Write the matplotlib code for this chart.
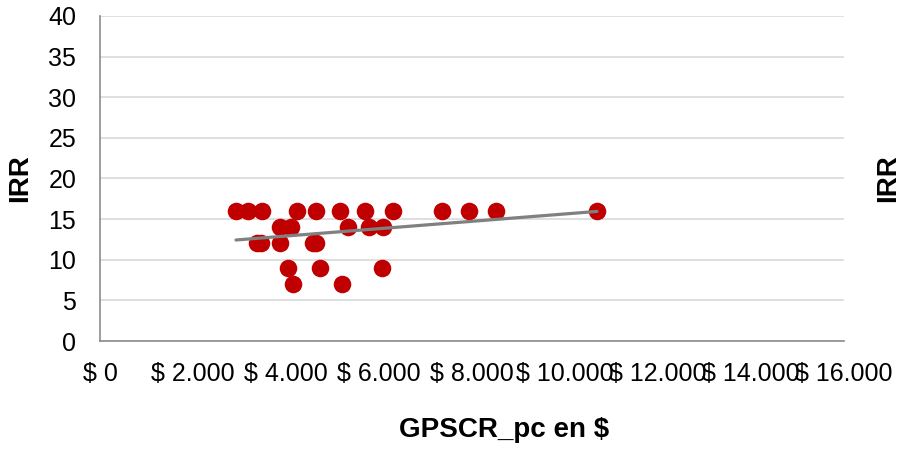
import matplotlib.pyplot as plt
import numpy as np

plt.rcParams['font.family'] = ['Liberation Sans', 'DejaVu Sans']

# GPSCR per capita (in $) against IRR, one point per observation
gpscr_pc = [2925, 3189, 3490, 4230, 4645, 5161, 5699, 6295, 7355, 7935, 8516, 10688,
            3871, 4101, 5327, 5791, 6092,
            3376, 3456, 3871, 4574, 4652,
            4037, 4731, 6058,
            4157, 5198]
irr = [16, 16, 16, 16, 16, 16, 16, 16, 16, 16, 16, 16,
       14, 14, 14, 14, 14,
       12, 12, 12, 12, 12,
       9, 9, 9,
       7, 7]

x_ticks = [0, 2000, 4000, 6000, 8000, 10000, 12000, 14000, 16000]
x_labels = ['$ 0', '$ 2.000', '$ 4.000', '$ 6.000', '$ 8.000',
            '$ 10.000', '$ 12.000', '$ 14.000', '$ 16.000']
y_ticks = [0, 5, 10, 15, 20, 25, 30, 35, 40]

fig = plt.figure(figsize=(9.04, 4.49), dpi=100)
ax = fig.add_axes([0.1106, 0.2405, 0.823, 0.724])

ax.scatter(gpscr_pc, irr, s=160, color='#C00000', zorder=3, linewidths=0)

# linear trend line over the range of the data
x = np.array(gpscr_pc, dtype=float)
y = np.array(irr, dtype=float)
slope, intercept = np.polyfit(x, y, 1)
xs = np.array([x.min(), x.max()])
ax.plot(xs, slope * xs + intercept, color='#808080', lw=2.3, zorder=4,
        solid_capstyle='round')

ax.set_xlim(0, 16000)
ax.set_ylim(0, 40)
ax.set_xticks(x_ticks)
ax.set_xticklabels(x_labels)
ax.set_yticks(y_ticks)
ax.tick_params(axis='both', length=0, labelsize=18)
ax.tick_params(axis='x', pad=15)
ax.tick_params(axis='y', pad=17)

ax.yaxis.grid(True, color='#d9d9d9', lw=1.2)
ax.set_axisbelow(True)
for side in ('top', 'right'):
    ax.spines[side].set_visible(False)
for side in ('left', 'bottom'):
    ax.spines[side].set_color('#8c8c8c')
    ax.spines[side].set_linewidth(1.2)

ax.set_xlabel('GPSCR_pc en $', fontsize=20, fontweight='bold', va='baseline')
ax.xaxis.set_label_coords(0.543, -0.2945)
ax.set_ylabel('IRR', fontsize=20, fontweight='bold')
ax.yaxis.set_label_coords(-0.090, 0.5)

# secondary axis carries only its title
ax2 = ax.twinx()
ax2.set_ylim(0, 40)
ax2.set_yticks([])
for side in ax2.spines:
    ax2.spines[side].set_visible(False)
ax2.set_ylabel('IRR', fontsize=20, fontweight='bold')
ax2.yaxis.set_label_coords(1.0417, 0.5)

fig.savefig('out.png', dpi=100)
